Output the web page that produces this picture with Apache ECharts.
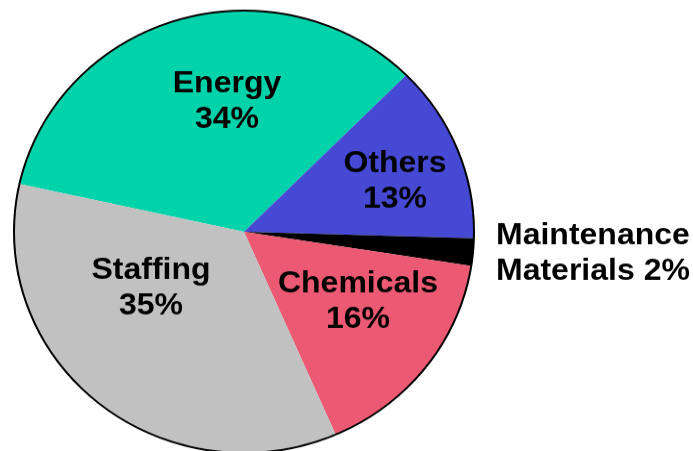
<!DOCTYPE html>
<html>
<head>
<meta charset="utf-8">
<script src="https://cdn.jsdelivr.net/npm/echarts@6/dist/echarts.min.js"></script>
<style>
  html, body { margin: 0; padding: 0; background: #fff; overflow: hidden; }
  #chart { width: 693px; height: 469px; transform: scaleY(0.9616); transform-origin: 0 0; }
</style>
</head>
<body>
<div id="chart"></div>
<script>
const categories = ['Energy', 'Others', 'Maintenance Materials', 'Chemicals', 'Staffing'];
const values = [34, 13, 2, 16, 35];
const colors = ['#00D2AA', '#4549D3', '#000000', '#EB5A72', '#C0C1C0'];

// label anchor positions (layout only)
const labelAnchors = [
  { x: 227, y: 106, align: 'center' },
  { x: 395, y: 189, align: 'center' },
  { x: 496, y: 264, align: 'left' },
  { x: 358, y: 314, align: 'center' },
  { x: 151, y: 300, align: 'center' }
];

const chart = echarts.init(document.getElementById('chart'), null, { renderer: 'canvas' });

const pieData = categories.map((name, i) => ({
  name: name,
  value: values[i],
  itemStyle: { color: colors[i] }
}));

chart.setOption({
  animation: false,
  backgroundColor: '#ffffff',
  series: [
    {
      type: 'pie',
      center: [244, 241],
      radius: 230,
      startAngle: 167.5,
      clockwise: true,
      avoidLabelOverlap: false,
      silent: true,
      data: pieData,
      itemStyle: { borderWidth: 0 },
      label: {
        show: true,
        position: 'inside',
        formatter: function (p) {
          const idx = p.name.indexOf(' ');
          if (idx > 0) {
            return p.name.slice(0, idx) + '\n' + p.name.slice(idx + 1) + ' ' + p.value + '%';
          }
          return p.name + '\n' + p.value + '%';
        },
        fontFamily: '"Liberation Sans", Arial, sans-serif',
        fontWeight: 'bold',
        fontSize: 32,
        lineHeight: 37,
        color: '#000',
        textShadowColor: '#8f8f8f',
        textShadowOffsetX: 2,
        textShadowOffsetY: 2,
        textShadowBlur: 0
      },
      labelLine: { show: false },
      labelLayout: function (params) {
        const a = labelAnchors[params.dataIndex];
        return { x: a.x, y: a.y, align: a.align, verticalAlign: 'middle' };
      }
    },
    {
      type: 'pie',
      center: [244, 241],
      radius: 230,
      silent: true,
      data: [{ value: 1, name: 'outline' }],
      itemStyle: { color: 'rgba(0,0,0,0)', borderColor: '#000', borderWidth: 2 },
      label: { show: false },
      labelLine: { show: false }
    }
  ]
});
</script>
</body>
</html>
